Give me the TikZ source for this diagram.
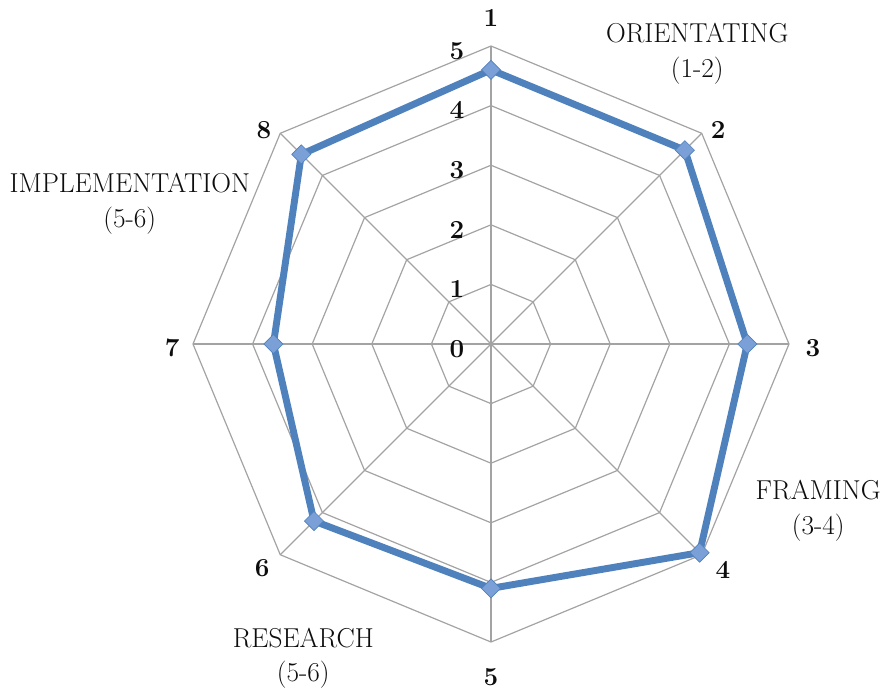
\documentclass[tikz,border=0pt]{standalone}
\usepackage{tikz}
\definecolor{color_radar_grid}{HTML}{A3A3A3}
\definecolor{color_radar_line}{HTML}{4F81BD}
\definecolor{color_radar_marker}{HTML}{7BA0D8}
\definecolor{color_radar_text}{HTML}{0D0D0D}
\def\radargridwidth{0.9pt}
\def\radarlinewidth{5.2pt}
\def\radarmarkersize{0.16}
\def\radarmarker(#1,#2){
    \fill[color_radar_marker, draw=color_radar_line, line width=0.5pt, shift={(#1:#2)}]
        (0,\radarmarkersize) -- (\radarmarkersize,0) -- (0,-\radarmarkersize) -- (-\radarmarkersize,0) -- cycle;
}
\def\radarnumberfont{\fontsize{19.5}{22}\selectfont\bfseries}
\def\radarphasefont{\fontsize{20.5}{26}\selectfont}

\begin{document}
\begin{tikzpicture}[x=44.7pt, y=44.7pt]
        \useasboundingbox (-8.238,-5.856) rectangle (6.594,5.772);
        % grid rings and spokes
        \foreach \r in {1,...,5}
            \draw[color_radar_grid, line width=\radargridwidth] (90:\r) -- (45:\r) -- (0:\r) -- (-45:\r) -- (-90:\r) -- (-135:\r) -- (180:\r) -- (135:\r) -- cycle;
        \foreach \a in {0,45,...,315}
            \draw[color_radar_grid, line width=\radargridwidth] (0,0) -- (\a:5);
        % scores
        \draw[color_radar_line, line width=\radarlinewidth, line join=round] (90:4.6) -- (45:4.6) -- (0:4.3) -- (-45:4.95) -- (-90:4.1) -- (-135:4.2) -- (180:3.65) -- (135:4.5) -- cycle;
        \radarmarker(90,4.6)
        \radarmarker(45,4.6)
        \radarmarker(0,4.3)
        \radarmarker(-45,4.95)
        \radarmarker(-90,4.1)
        \radarmarker(-135,4.2)
        \radarmarker(180,3.65)
        \radarmarker(135,4.5)

        % scale labels
        \foreach \k in {0,...,5}
            \node[color_radar_text, font=\radarnumberfont] (scale\k) at (-0.57, \k-0.08) {\k};
        % axis labels
        \foreach \n/\x/\y in {1/0/5.47, 2/3.81/3.59, 3/5.40/-0.07, 4/3.89/-3.79, 5/0/-5.59, 6/-3.84/-3.76, 7/-5.35/-0.07, 8/-3.81/3.59}
            \node[color_radar_text, font=\radarnumberfont] (axis\n) at (\x, \y) {\n};
        % phase labels
        \node[color_radar_text, font=\radarphasefont, align=center] (orientating) at (3.46, 4.87) {ORIENTATING\\(1-2)};
        \node[color_radar_text, font=\radarphasefont, align=center] (framing) at (5.49, -2.80) {FRAMING\\(3-4)};
        \node[color_radar_text, font=\radarphasefont, align=center] (research) at (-3.15, -5.27) {RESEARCH\\(5-6)};
        \node[color_radar_text, font=\radarphasefont, align=center] (implementation) at (-6.06, 2.35) {IMPLEMENTATION\\(5-6)};
    \end{tikzpicture}
\end{document}
